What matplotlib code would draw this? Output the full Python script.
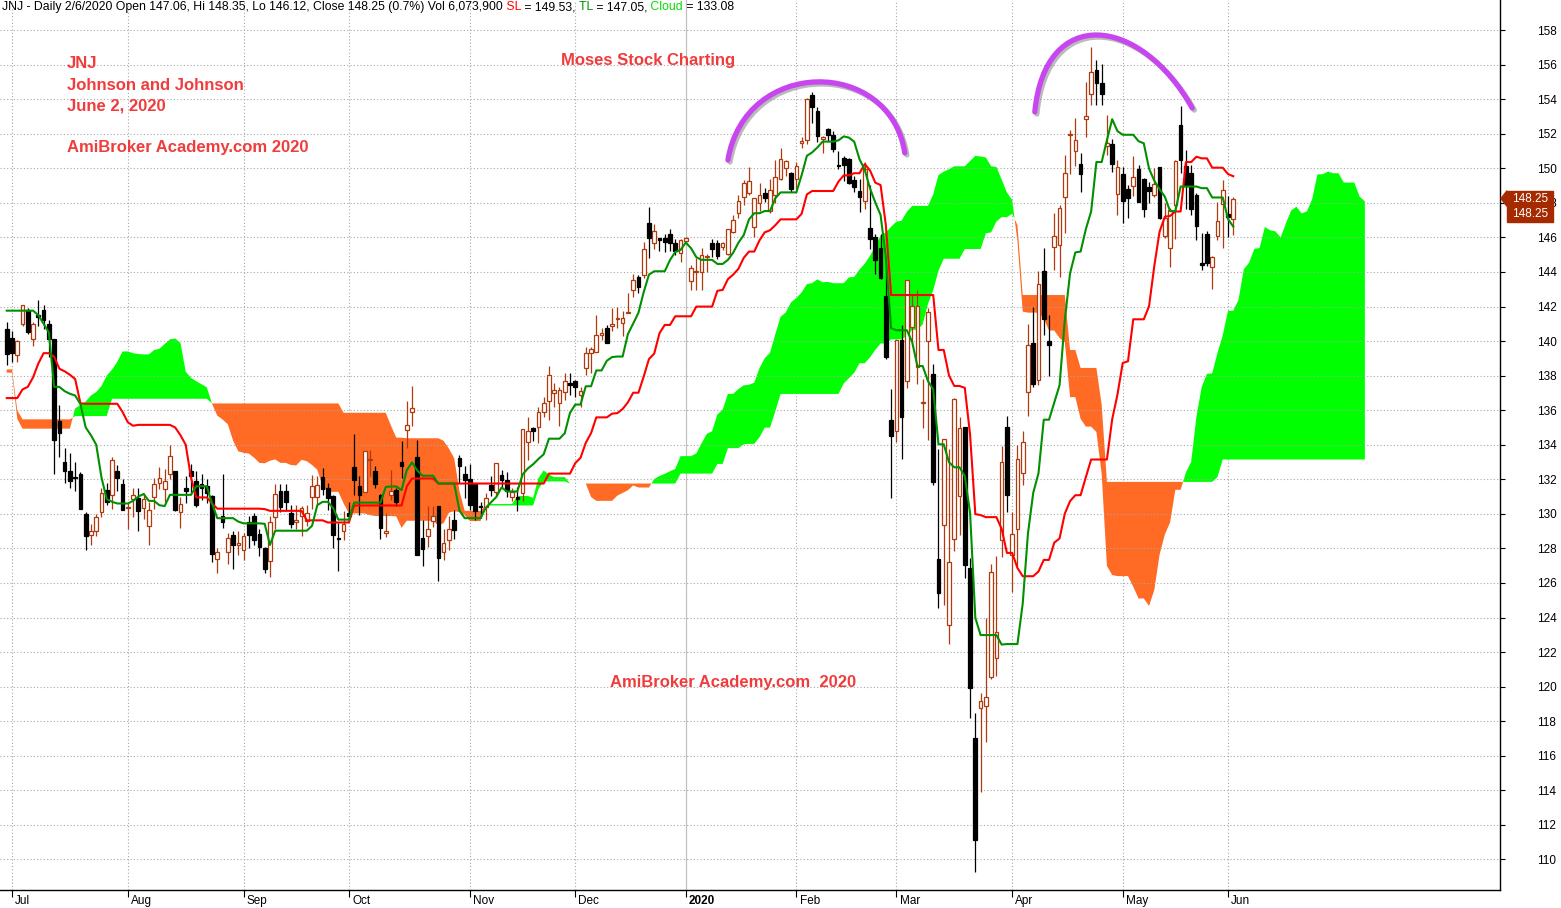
import matplotlib
matplotlib.use("Agg")
import matplotlib.pyplot as plt
import matplotlib.patheffects as pe
import numpy as np
from matplotlib.patches import PathPatch, Polygon, Rectangle
from matplotlib.path import Path

plt.rcParams['font.family'] = ['Liberation Sans', 'DejaVu Sans']

# bar 0 = 1 Jul 2019, first bar (-1) = 28 Jun 2019, last bar (232) = 2 Jun 2020
first_bar = -1
opens = [140.7, 140.2, 139.2, 141.0, 141.8, 140.1, 141.5, 141.8, 141.0, 140.1,
         135.4, 133.0, 132.5, 132.15, 132.3, 130.0, 128.8, 129.0, 130.1, 131.4,
         131.1, 132.5, 131.7, 130.35, 130.85, 130.9, 130.35, 129.3, 131.0, 131.8,
         131.45, 132.3, 132.5, 130.1, 131.5, 132.5, 131.9, 131.7, 131.6, 131.05,
         127.4, 129.85, 127.8, 128.8, 128.2, 127.9, 129.5, 129.9, 128.85, 128.0,
         127.25, 129.8, 131.35, 131.3, 130.05, 129.53, 129.86, 129.57, 130.98, 130.98,
         132.13, 131.5, 131.05, 128.6, 129.0, 130.05, 132.71, 131.63, 131.27, 133.1,
         132.46, 131.11, 128.9, 131.11, 131.36, 132.98, 134.83, 135.87, 133.29, 128.6,
         128.74, 129.57, 130.44, 127.8, 128.51, 129.67, 133.23, 132.3, 132.04, 131.73,
         130.48, 130.4, 131.69, 131.25, 132.23, 131.97, 131.0, 130.97, 131.2, 134.13,
         134.96, 135.05, 135.88, 136.56, 136.98, 136.4, 137.08, 137.6, 137.68, 136.89,
         138.43, 139.29, 139.39, 140.34, 140.74, 140.9, 141.3, 141.03, 141.65, 142.96,
         143.69, 143.83, 146.85, 145.7, 145.95, 145.99, 146.2, 145.7, 145.08, 145.82,
         143.45, 144.0, 143.97, 144.87, 145.7, 145.7, 145.47, 145.05, 146.34, 147.44,
         148.36, 148.56, 146.63, 148.02, 148.56, 147.55, 148.46, 149.37, 150.0, 149.75,
         149.37, 151.45, 151.64, 154.24, 153.34, 151.68, 152.3, 151.94, 150.21, 150.6,
         150.52, 149.3, 148.67, 148.09, 146.55, 146.03, 145.39, 142.6, 135.42, 134.79,
         140.05, 137.7, 140.82, 138.51, 136.39, 140.01, 138.12, 127.36, 129.35, 123.56,
         128.54, 131.04, 135.03, 126.84, 117.01, 118.78, 118.9, 120.58, 121.67, 128.48,
         135.03, 127.61, 129.14, 132.37, 137.04, 139.89, 137.77, 144.07, 139.98, 145.47,
         145.55, 148.36, 151.95, 150.98, 150.22, 152.84, 154.29, 155.67, 154.91, 151.29,
         151.4, 148.5, 149.68, 148.79, 149.0, 149.96, 149.38, 148.92, 148.48, 150.08,
         146.08, 145.4, 147.9, 152.52, 150.15, 149.73, 148.48, 144.54, 146.17, 144.31,
         146.08, 147.96, 147.33, 147.06]
highs = [141.1, 140.6, 140.05, 142.1, 141.9, 141.1, 142.4, 142.1, 141.2, 140.1,
         136.3, 133.8, 133.5, 133.0, 132.4, 130.1, 129.4, 130.0, 131.5, 131.8,
         133.3, 132.8, 132.0, 130.6, 131.5, 131.5, 131.2, 130.7, 132.1, 132.7,
         132.6, 134.0, 132.5, 131.0, 132.2, 132.9, 132.5, 132.3, 132.0, 131.1,
         128.0, 132.3, 128.9, 129.0, 129.0, 128.9, 129.9, 130.05, 129.1, 128.1,
         129.9, 131.7, 131.7, 131.7, 130.5, 130.5, 130.44, 130.5, 132.27, 132.2,
         132.65, 131.8, 131.11, 129.47, 130.15, 130.67, 134.62, 132.21, 133.66, 133.7,
         132.75, 131.17, 130.05, 132.56, 131.5, 134.2, 136.51, 137.41, 134.29, 129.63,
         130.47, 130.44, 130.47, 129.13, 129.86, 130.24, 133.4, 132.75, 132.9, 131.73,
         130.7, 131.2, 132.21, 132.93, 132.56, 132.4, 131.5, 131.58, 134.9, 135.6,
         135.05, 136.21, 136.75, 138.56, 137.56, 137.37, 138.14, 138.14, 137.76, 137.33,
         139.68, 139.68, 141.51, 140.74, 140.93, 141.94, 142.0, 141.74, 142.77, 143.88,
         143.83, 145.75, 147.78, 146.78, 145.95, 146.2, 146.47, 145.9, 145.9, 146.0,
         144.41, 144.8, 145.37, 145.03, 145.9, 145.86, 145.76, 146.47, 147.3, 148.46,
         149.33, 150.06, 148.27, 149.13, 148.84, 149.36, 150.48, 151.16, 150.48, 149.81,
         150.39, 151.8, 154.05, 154.44, 153.57, 151.87, 152.35, 152.14, 150.98, 150.71,
         150.6, 149.55, 149.4, 150.36, 149.01, 146.22, 146.22, 144.48, 137.25, 140.09,
         140.92, 143.52, 142.75, 142.94, 137.79, 141.92, 138.7, 133.74, 134.36, 133.74,
         136.71, 135.61, 135.03, 127.42, 118.49, 119.61, 123.99, 127.07, 127.57, 133.94,
         135.67, 130.12, 134.0, 134.77, 140.97, 142.0, 144.07, 145.41, 141.48, 147.41,
         147.89, 150.77, 152.22, 152.9, 150.88, 155.0, 157.03, 156.29, 156.04, 153.11,
         151.71, 150.47, 150.05, 149.02, 150.73, 150.21, 149.44, 149.19, 150.02, 150.08,
         148.0, 147.71, 150.5, 153.58, 151.08, 150.21, 148.58, 146.23, 146.37, 144.92,
         148.04, 149.31, 148.38, 148.35]
lows = [138.6, 138.8, 138.8, 140.85, 140.4, 139.7, 140.9, 140.7, 139.1, 132.3,
        133.3, 131.8, 131.5, 131.3, 130.3, 127.9, 128.2, 128.7, 129.8, 130.5,
        130.3, 131.3, 130.2, 129.1, 129.8, 129.0, 129.7, 128.2, 130.3, 131.45,
        130.7, 132.0, 130.15, 129.2, 130.6, 131.2, 130.4, 130.8, 130.6, 127.2,
        126.6, 129.2, 127.1, 126.8, 127.6, 127.35, 128.0, 128.2, 127.55, 126.55,
        126.35, 129.1, 130.1, 130.2, 129.2, 129.1, 128.74, 129.3, 130.28, 130.5,
        131.07, 130.2, 128.03, 126.68, 128.5, 129.76, 131.11, 129.95, 131.27, 132.2,
        131.5, 128.55, 128.66, 130.82, 130.44, 132.07, 133.81, 135.1, 127.6, 127.0,
        128.08, 129.24, 126.1, 127.31, 127.93, 128.55, 131.8, 130.92, 130.24, 129.66,
        129.76, 129.66, 131.05, 131.0, 131.5, 131.0, 130.72, 130.14, 130.77, 133.13,
        134.2, 134.09, 135.6, 135.44, 136.21, 135.09, 136.6, 136.9, 136.79, 136.21,
        138.04, 138.14, 139.39, 140.07, 139.91, 140.6, 140.74, 140.3, 141.6, 142.53,
        142.77, 143.63, 144.79, 145.31, 145.23, 145.18, 145.24, 144.99, 144.6, 145.7,
        142.96, 142.93, 142.93, 144.02, 144.85, 144.74, 145.28, 144.99, 146.24, 147.11,
        147.88, 148.46, 146.05, 147.5, 148.07, 147.4, 147.98, 149.33, 149.56, 148.65,
        148.79, 151.2, 151.41, 152.64, 151.54, 150.91, 151.6, 150.94, 149.98, 149.25,
        149.11, 148.63, 147.47, 147.66, 145.31, 143.9, 143.62, 138.99, 130.89, 134.13,
        133.17, 137.26, 139.99, 137.49, 134.98, 134.27, 131.66, 124.53, 124.72, 122.45,
        127.84, 128.77, 126.26, 118.2, 109.26, 113.93, 116.78, 120.44, 120.63, 127.52,
        130.12, 125.49, 127.0, 131.67, 135.64, 137.36, 137.46, 140.35, 137.97, 144.11,
        143.69, 146.23, 149.68, 150.16, 148.65, 151.81, 153.67, 153.67, 153.67, 150.78,
        149.81, 147.27, 146.85, 147.15, 148.38, 148.04, 147.19, 148.0, 148.35, 147.04,
        145.98, 144.31, 145.92, 149.73, 147.62, 147.27, 145.85, 144.12, 144.35, 143.04,
        145.85, 145.4, 146.04, 146.12]
closes = [139.25, 139.3, 140.0, 142.1, 140.5, 141.0, 141.4, 141.2, 140.1, 134.3,
          134.7, 132.5, 131.9, 132.1, 130.3, 128.7, 129.0, 129.8, 131.2, 130.7,
          133.1, 132.05, 130.25, 130.4, 131.1, 130.15, 130.85, 130.25, 131.7, 132.1,
          131.9, 133.35, 130.2, 130.55, 131.3, 132.2, 130.5, 131.5, 131.2, 127.7,
          127.8, 129.55, 128.6, 128.2, 128.3, 128.7, 128.8, 128.5, 128.1, 126.8,
          129.5, 131.15, 130.4, 130.7, 129.4, 129.67, 130.34, 130.05, 131.63, 131.69,
          131.46, 130.9, 128.76, 128.54, 129.4, 129.86, 131.94, 131.11, 133.66, 133.15,
          131.75, 129.18, 129.03, 131.3, 130.67, 132.75, 135.16, 136.12, 127.6, 127.97,
          129.13, 129.86, 127.45, 128.32, 129.13, 129.05, 132.75, 131.98, 130.53, 130.15,
          130.4, 130.92, 131.36, 132.93, 131.95, 131.3, 131.24, 130.87, 134.9, 134.77,
          134.77, 135.88, 136.4, 138.04, 137.17, 137.14, 137.7, 137.48, 137.33, 137.12,
          139.33, 139.53, 140.34, 140.45, 139.91, 140.93, 141.34, 141.34, 141.7, 143.54,
          143.15, 145.31, 145.99, 146.39, 145.87, 145.76, 145.7, 145.24, 145.86, 145.95,
          144.22, 144.02, 144.99, 144.9, 145.32, 144.93, 145.66, 146.47, 147.01, 148.13,
          149.13, 149.27, 148.27, 148.46, 148.27, 148.75, 149.48, 150.52, 150.4, 148.79,
          150.14, 151.58, 153.99, 153.53, 151.87, 151.83, 151.95, 151.1, 150.11, 150.17,
          149.17, 148.92, 148.34, 149.98, 145.93, 144.68, 143.66, 139.09, 134.52, 140.09,
          135.62, 143.52, 142.04, 142.02, 136.48, 141.69, 131.82, 125.4, 134.36, 127.19,
          136.63, 134.98, 127.03, 119.9, 111.13, 119.19, 119.42, 126.61, 123.14, 133.01,
          131.12, 128.86, 133.18, 134.16, 139.77, 137.5, 143.28, 141.28, 139.77, 146.09,
          147.68, 149.74, 152.0, 151.66, 149.68, 153.05, 155.59, 154.91, 154.29, 151.46,
          150.26, 150.1, 148.09, 148.3, 149.5, 148.04, 147.62, 148.67, 149.1, 147.13,
          147.13, 147.58, 150.4, 150.46, 148.96, 147.62, 146.65, 144.38, 144.54, 144.88,
          146.94, 148.77, 147.19, 148.25]

month_bars = [0, 22, 44, 64, 87, 107, 128, 149, 168, 190, 211, 231]
month_labels = ["Jul", "Aug", "Sep", "Oct", "Nov", "Dec", "2020", "Feb", "Mar", "Apr", "May", "Jun"]
price_ticks = list(range(110, 159, 2))

tenkan_head = [141.76, 141.76, 141.76, 141.76, 141.76, 141.76, 141.5, 141.0]
kijun_head = [136.7, 136.7, 136.7, 137.2, 137.35, 137.9, 138.7, 139.3, 139.3, 139.1,
              138.4, 138.25, 138.05, 137.8, 136.4, 136.37, 136.37, 136.37, 136.37, 136.37,
              136.37, 136.37, 135.9, 135.3, 135.1]
span_a_head = [138.17, 138.17, 135.5, 134.93, 134.93, 134.93, 134.93, 134.93, 134.93, 134.93,
               134.93, 134.93, 134.93, 136.1, 136.3, 136.5, 136.85, 137.05, 137.4, 138.0,
               138.35, 138.8, 139.4, 139.4, 139.3, 139.25]
span_b_head = ([138.36, 138.36, 136.0] + [135.47] * 10 + [135.66] * 7 + [136.66] * 19
               + [136.39] * 25 + [135.85] * 9 + [135.1, 134.41, 134.41])

shift = 25

# hand-drawn arcs (bar, price)
arc1 = [(136.0, 150.48), (139.25, 156.44), (166.8, 156.44), (169.6, 150.89)]
arc2 = [(194.3, 153.26), (196.2, 159.45), (214.3, 158.87), (224.2, 153.49)]

UP = '#B03A0E'
RED_TXT = '#F03C3C'


def midline(highs_a, lows_a, period, head):
    n = len(highs_a)
    out = np.full(n, np.nan)
    out[:len(head)] = head
    for i in range(len(head), n):
        out[i] = (highs_a[i - period + 1:i + 1].max() + lows_a[i - period + 1:i + 1].min()) / 2
    return out


def draw_candles(ax, bars, o, h, l, c):
    up = c >= o
    ax.vlines(bars[up], l[up], h[up], color=UP, lw=0.9, zorder=3)
    ax.vlines(bars[~up], l[~up], h[~up], color='black', lw=0.9, zorder=3)
    body_lo = np.minimum(o, c)
    body_h = np.maximum(np.abs(c - o), 0.06)
    ax.bar(bars[up], body_h[up], bottom=body_lo[up], width=0.7, facecolor='white',
           edgecolor=UP, lw=0.9, zorder=4)
    ax.bar(bars[~up], body_h[~up], bottom=body_lo[~up], width=0.7, facecolor='black',
           edgecolor='black', lw=0.9, zorder=4)


if __name__ == '__main__':
    o = np.array(opens); h = np.array(highs); l = np.array(lows); c = np.array(closes)
    n = len(c)
    bars = np.arange(n) + first_bar

    tenkan = midline(h, l, 9, tenkan_head)
    kijun = midline(h, l, 26, kijun_head)

    m = n + shift
    cloud_x = np.arange(m) + first_bar
    span_a = np.full(m, np.nan)
    span_a[:len(span_a_head)] = span_a_head
    for j in range(len(span_a_head), m):
        span_a[j] = (tenkan[j - shift] + kijun[j - shift]) / 2
    span_b = np.full(m, np.nan)
    span_b[:len(span_b_head)] = span_b_head
    for j in range(len(span_b_head), m):
        k = j - shift
        span_b[j] = (h[k - 51:k + 1].max() + l[k - 51:k + 1].min()) / 2

    fig = plt.figure(figsize=(15.61, 9.08), dpi=100)
    ax = fig.add_axes([0, 18 / 908, 1500 / 1561, 890 / 908])
    ax.set_xlim(-2.28, 282.67)
    ax.set_ylim(108.23, 159.74)

    for s in ['left', 'top']:
        ax.spines[s].set_visible(False)
    for s in ['right', 'bottom']:
        ax.spines[s].set_linewidth(1.0)

    ax.yaxis.tick_right()
    ax.set_yticks(price_ticks)
    ax.set_yticklabels([str(p) for p in price_ticks])
    ax.tick_params(axis='y', direction='out', length=3.6, width=0.8, pad=23, labelsize=8.5)
    ax.grid(axis='y', color='#A8A8A8', linestyle=(0, (1, 2)), lw=0.8)

    ax.set_xticks(month_bars)
    ax.set_xticklabels([])
    ax.tick_params(axis='x', direction='out', length=5, width=0.8)
    for b, lab in zip(month_bars, month_labels):
        if lab == '2020':
            ax.axvline(b, color='#C0C0C0', lw=0.9, zorder=0)
        else:
            ax.axvline(b, color='#A8A8A8', linestyle=(0, (1, 2)), lw=0.8, zorder=0)
        ax.text(b + 0.6, -0.012, lab, transform=ax.get_xaxis_transform(), ha='left', va='center',
                fontsize=8.5, fontweight='bold' if lab == '2020' else 'normal')

    ax.fill_between(cloud_x, span_a, span_b, where=span_a >= span_b, interpolate=True,
                    color='#00FF00', lw=0, zorder=1)
    ax.fill_between(cloud_x, span_a, span_b, where=span_a < span_b, interpolate=True,
                    color='#FF6B24', lw=0, zorder=1)

    draw_candles(ax, bars, o, h, l, c)
    ax.plot(bars, kijun, color='#FF0000', lw=1.5, zorder=5)
    ax.plot(bars, tenkan, color='#009000', lw=1.5, zorder=5)

    for pts in (arc1, arc2):
        path = Path(pts, [Path.MOVETO, Path.CURVE4, Path.CURVE4, Path.CURVE4])
        ax.add_patch(PathPatch(path, facecolor='none', edgecolor='#C846F0', lw=3.8,
                               capstyle='round', zorder=6,
                               path_effects=[pe.SimpleLineShadow(offset=(1.5, -1.5), shadow_color='#777777', alpha=0.5),
                                             pe.Normal()]))

    # title line
    pieces = [("JNJ - Daily 2/6/2020 Open 147.06, Hi 148.35, Lo 146.12, Close 148.25 (0.7%) Vol 6,073,900", 'black'),
              (" SL", '#FF0000'), (" = 149.53,", 'black'), (" TL", '#009000'),
              (" = 147.05,", 'black'), (" Cloud", '#00E000'), (" = 133.08", 'black')]
    t = ax.text(2 / 1500, 1 - 7 / 890, pieces[0][0], transform=ax.transAxes, va='center',
                ha='left', fontsize=8.8, color=pieces[0][1])
    for s, col in pieces[1:]:
        t = ax.annotate(s, xy=(1, 0), xycoords=t, va='bottom', ha='left', fontsize=8.8, color=col)

    notes = [("JNJ", 67, 64), ("Johnson and Johnson", 67, 85), ("June 2, 2020", 67, 106),
             ("AmiBroker Academy.com 2020", 67, 148), ("Moses Stock Charting", 561, 60),
             ("AmiBroker Academy.com  2020", 610, 683)]
    for s, x, y in notes:
        fig.text(x / 1561, 1 - y / 908, s, color=RED_TXT, fontsize=12, fontweight='bold',
                 ha='left', va='center')

    # last price marker
    last = c[-1]
    tr = ax.get_yaxis_transform()
    bw = 46 / 1500
    bh = 15.5 / 17.28
    x0 = 1 + 7 / 1500
    ax.add_patch(Polygon([(1 + 1 / 1500, last), (x0, last + bh / 2), (x0, last - bh / 2)],
                         closed=True, transform=tr, clip_on=False, color='#A52A00', zorder=10))
    for k in range(2):
        yb = last - bh / 2 - k * bh
        ax.add_patch(Rectangle((x0, yb), bw, bh, transform=tr, clip_on=False,
                               color='#A52A00', zorder=10))
        ax.text(x0 + bw / 2, yb + bh / 2, f"{last:.2f}", transform=tr, ha='center', va='center',
                color='white', fontsize=8.5, zorder=11, clip_on=False)

    fig.savefig('out.png', dpi=100, facecolor='white')
